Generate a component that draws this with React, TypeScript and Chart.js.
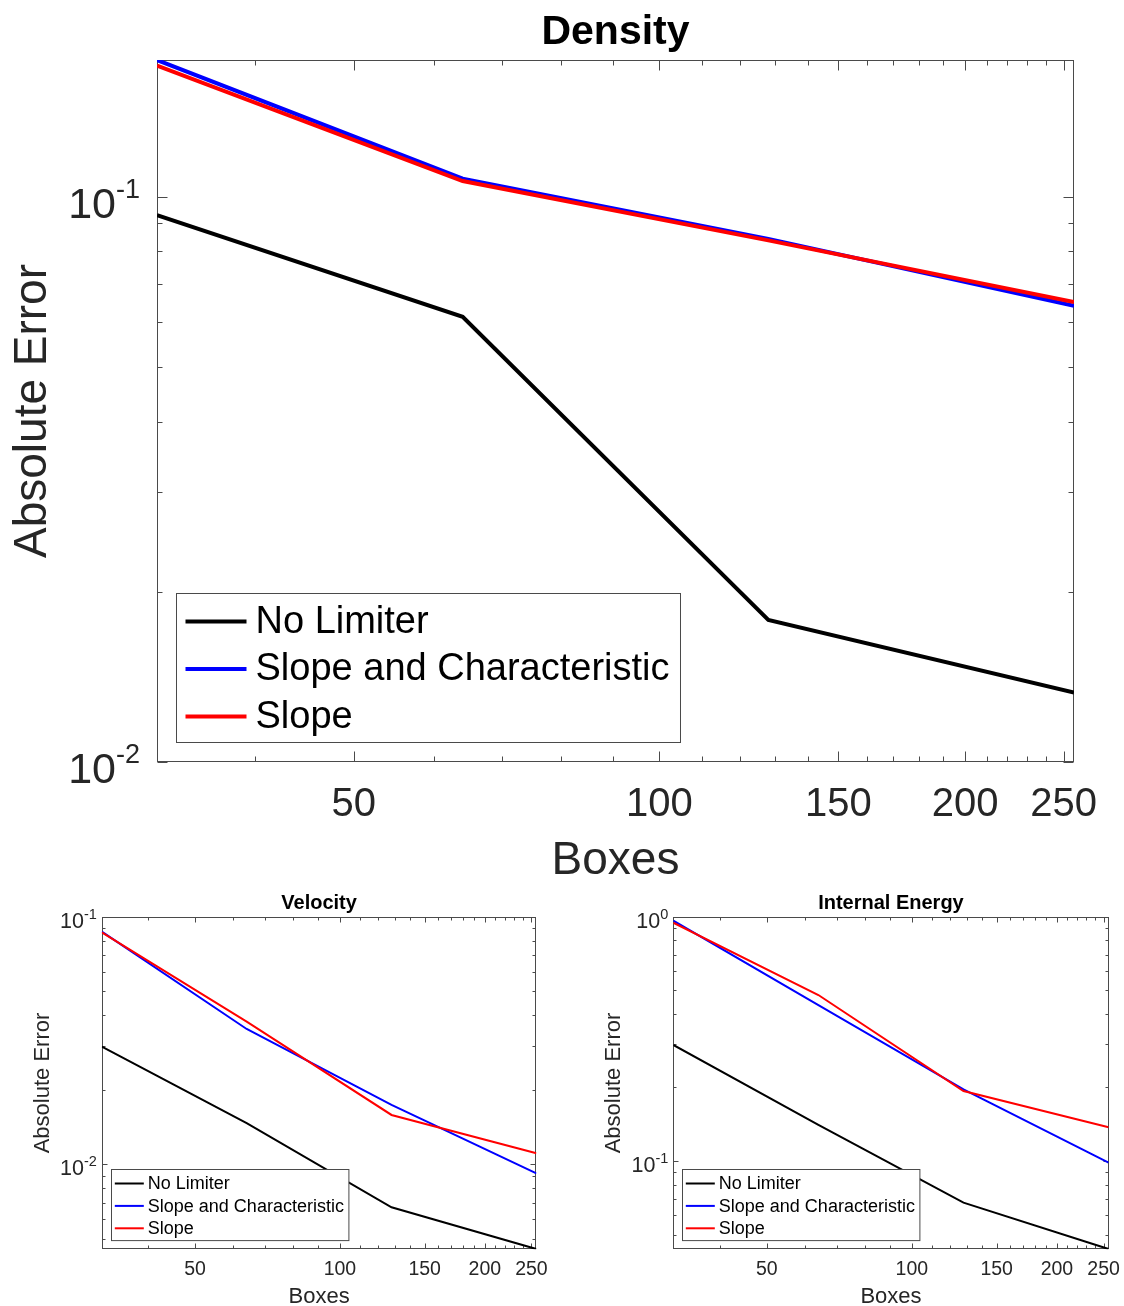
import { useEffect, useRef } from 'react';
import { Chart, registerables } from 'chart.js';

Chart.register(...registerables);

const FONT = '"Liberation Sans", Arial, Helvetica, sans-serif';
const AXIS_COLOR = '#262626';
const FRAME_COLOR = '#4a4a4a';

// Number of boxes in each grid refinement
const boxes = [32, 64, 128, 256];
const seriesNames = ['No Limiter', 'Slope and Characteristic', 'Slope'];
const seriesColors = ['#000000', '#0000ff', '#ff0000'];

// Absolute error of the density
const densityNoLimiter = [0.0928, 0.0613, 0.01783, 0.01327];
const densitySlopeChar = [0.1745, 0.1076, 0.0842, 0.0641];
const densitySlope = [0.1705, 0.1066, 0.0837, 0.0651];

// Absolute error of the velocity
const velocityNoLimiter = [0.02987, 0.01466, 0.00671, 0.00455];
const velocitySlopeChar = [0.087, 0.0352, 0.01738, 0.0092];
const velocitySlope = [0.0865, 0.0377, 0.01583, 0.01109];

// Absolute error of the internal energy
const energyNoLimiter = [0.2985, 0.1405, 0.0675, 0.0436];
const energySlopeChar = [0.963, 0.435, 0.1965, 0.0984];
const energySlope = [0.945, 0.478, 0.1934, 0.1374];

// Axis ticks
const xLabelTicks = [50, 100, 150, 200, 250];
const xMinorTicks = [40, 60, 70, 80, 90, 110, 120, 130, 140, 160, 170, 180, 190, 210, 220, 230, 240];
const yMinorTicks = [
  0.005, 0.006, 0.007, 0.008, 0.009,
  0.02, 0.03, 0.04, 0.05, 0.06, 0.07, 0.08, 0.09,
  0.2, 0.3, 0.4, 0.5, 0.6, 0.7, 0.8, 0.9,
];
const densityYMajor = [0.01, 0.1];
const velocityYMajor = [0.01, 0.1];
const energyYMajor = [0.1, 1];

type Style = {
  left: number; top: number; width: number; height: number;
  yAxisWidth: number; xAxisHeight: number; rightPad: number;
  titleSize: number; titlePadTop: number; titlePadBottom: number;
  labelSize: number; yTitlePadTop: number; xTitleLineHeight: number; xTitlePadBottom: number;
  tickSize: number; tickPad: number;
  lineWidth: number; majorLen: number; minorLen: number;
  ySup: { size: number; supSize: number; gap: number; base: number; raise: number };
  legend: {
    size: number; lineLen: number; padL: number; gap: number; padR: number;
    rowH: number; padTop: number; padBottom: number; offsetX: number; offsetY: number;
  };
};

const bigStyle: Style = {
  left: 0, top: 0, width: 1124, height: 884,
  yAxisWidth: 157, xAxisHeight: 122, rightPad: 50,
  titleSize: 41, titlePadTop: 7.6, titlePadBottom: 3.2,
  labelSize: 46, yTitlePadTop: 5.5, xTitleLineHeight: 1.0, xTitlePadBottom: 0,
  tickSize: 40, tickPad: 10.5,
  lineWidth: 4, majorLen: 10, minorLen: 5,
  ySup: { size: 43, supSize: 27, gap: 17, base: 21, raise: 20 },
  legend: { size: 38, lineLen: 61, padL: 9, gap: 9, padR: 11, rowH: 47.5, padTop: 28, padBottom: 26, offsetX: 19, offsetY: 20 },
};

const smallBase = {
  top: 884, width: 562, height: 422,
  xAxisHeight: 56.7,
  titleSize: 20, titlePadTop: 7.5, titlePadBottom: 1.2,
  labelSize: 22, xTitleLineHeight: 1.0, xTitlePadBottom: -2,
  tickSize: 19.5, tickPad: 0.5,
  lineWidth: 2, majorLen: 5, minorLen: 3,
  ySup: { size: 21.5, supSize: 14.5, gap: 5, base: 11, raise: 9 },
  legend: { size: 18, lineLen: 29, padL: 3.3, gap: 4, padR: 5, rowH: 22.4, padTop: 14, padBottom: 12.3, offsetX: 9, offsetY: 9.3 },
};

const velocityStyle: Style = { ...smallBase, left: 0, yAxisWidth: 101.8, rightPad: 25.6, yTitlePadTop: 29.5 };
const energyStyle: Style = { ...smallBase, left: 562, yAxisWidth: 111.3, rightPad: 15.4, yTitlePadTop: 38.5 };

// Box-style axes with inward tick marks, superscript decade labels and an inset legend
const matlabAxes = {
  id: 'matlabAxes',
  beforeDatasetsDraw(chart: any, _args: any, opts: any) {
    const { ctx, chartArea: a, scales } = chart;
    const xs = scales.x;
    const ys = scales.y;
    const L = Math.round(a.left) + 0.5;
    const R = Math.round(a.right) - 0.5;
    const T = Math.round(a.top) + 0.5;
    const B = Math.round(a.bottom) - 0.5;
    ctx.save();
    ctx.strokeStyle = FRAME_COLOR;
    ctx.lineWidth = 1;
    ctx.beginPath();
    const vTick = (v: number, len: number) => {
      const px = Math.round(xs.getPixelForValue(v)) + 0.5;
      ctx.moveTo(px, B); ctx.lineTo(px, B - len);
      ctx.moveTo(px, T); ctx.lineTo(px, T + len);
    };
    const hTick = (v: number, len: number) => {
      const py = Math.round(ys.getPixelForValue(v)) + 0.5;
      ctx.moveTo(L, py); ctx.lineTo(L + len, py);
      ctx.moveTo(R, py); ctx.lineTo(R - len, py);
    };
    xLabelTicks.forEach((v) => vTick(v, opts.majorLen));
    xMinorTicks.filter((v) => v > xs.min && v < xs.max).forEach((v) => vTick(v, opts.minorLen));
    opts.yMajor.filter((v: number) => v >= ys.min && v <= ys.max).forEach((v: number) => hTick(v, opts.majorLen));
    yMinorTicks.filter((v) => v > ys.min && v < ys.max).forEach((v) => hTick(v, opts.minorLen));
    ctx.stroke();
    ctx.strokeRect(L, T, R - L, B - T);
    ctx.restore();
  },
  afterDatasetsDraw(chart: any, _args: any, opts: any) {
    const { ctx, chartArea: a } = chart;
    const lg = opts.legend;
    const ds = chart.data.datasets;
    ctx.save();
    ctx.font = `${lg.size}px ${FONT}`;
    const textW = Math.max(...ds.map((d: any) => ctx.measureText(d.label).width));
    const w = lg.padL + lg.lineLen + lg.gap + textW + lg.padR;
    const h = lg.padTop + lg.rowH * (ds.length - 1) + lg.padBottom;
    const x0 = Math.round(a.left + lg.offsetX) + 0.5;
    const y0 = Math.round(a.bottom - lg.offsetY - h) + 0.5;
    ctx.fillStyle = '#ffffff';
    ctx.fillRect(x0, y0, w, h);
    ctx.strokeStyle = FRAME_COLOR;
    ctx.lineWidth = 1;
    ctx.strokeRect(x0, y0, w, h);
    ds.forEach((d: any, i: number) => {
      const cy = y0 + lg.padTop + lg.rowH * i;
      ctx.strokeStyle = d.borderColor;
      ctx.lineWidth = d.borderWidth;
      ctx.beginPath();
      ctx.moveTo(x0 + lg.padL, cy);
      ctx.lineTo(x0 + lg.padL + lg.lineLen, cy);
      ctx.stroke();
      ctx.fillStyle = '#000000';
      ctx.textAlign = 'left';
      ctx.textBaseline = 'middle';
      ctx.fillText(d.label, x0 + lg.padL + lg.lineLen + lg.gap, cy + 1);
    });
    ctx.restore();
  },
  afterDraw(chart: any, _args: any, opts: any) {
    const { ctx, chartArea: a, scales } = chart;
    const ys = scales.y;
    const s = opts.ySup;
    ctx.save();
    ctx.fillStyle = AXIS_COLOR;
    ctx.textAlign = 'left';
    ctx.textBaseline = 'alphabetic';
    opts.yMajor.filter((v: number) => v >= ys.min * 0.999 && v <= ys.max * 1.001).forEach((v: number) => {
      const py = ys.getPixelForValue(v);
      const exp = String(Math.round(Math.log10(v)));
      ctx.font = `${s.size}px ${FONT}`;
      const w1 = ctx.measureText('10').width;
      ctx.font = `${s.supSize}px ${FONT}`;
      const w2 = ctx.measureText(exp).width;
      const x0 = a.left - s.gap - w1 - w2;
      ctx.font = `${s.size}px ${FONT}`;
      ctx.fillText('10', x0, py + s.base);
      ctx.font = `${s.supSize}px ${FONT}`;
      ctx.fillText(exp, x0 + w1, py + s.base - s.raise);
    });
    ctx.restore();
  },
};

type PanelProps = {
  title: string;
  series: number[][];
  yMin: number;
  yMax: number;
  yMajor: number[];
  st: Style;
};

function Panel({ title, series, yMin, yMax, yMajor, st }: PanelProps) {
  const ref = useRef<HTMLCanvasElement | null>(null);
  useEffect(() => {
    if (!ref.current) return;
    const datasets = series.map((vals, i) => ({
      label: seriesNames[i],
      data: boxes.map((b, j) => ({ x: b, y: vals[j] })),
      borderColor: seriesColors[i],
      backgroundColor: seriesColors[i],
      borderWidth: st.lineWidth,
      pointRadius: 0,
      fill: false,
      tension: 0,
      order: series.length - 1 - i,
    }));
    const chart = new Chart(ref.current, {
      type: 'line',
      data: { datasets },
      plugins: [matlabAxes],
      options: {
        responsive: false,
        animation: false,
        devicePixelRatio: 1,
        layout: { padding: { left: 0, right: st.rightPad, top: 0, bottom: 0 } },
        plugins: {
          legend: { display: false },
          tooltip: { enabled: false },
          title: {
            display: true,
            text: title,
            color: '#000000',
            fullSize: false,
            font: { family: FONT, size: st.titleSize, weight: 'bold', lineHeight: 1.2 },
            padding: { top: st.titlePadTop, bottom: st.titlePadBottom },
          },
          matlabAxes: {
            yMajor,
            majorLen: st.majorLen,
            minorLen: st.minorLen,
            ySup: st.ySup,
            legend: st.legend,
          },
        } as any,
        scales: {
          x: {
            type: 'logarithmic',
            min: boxes[0],
            max: boxes[boxes.length - 1],
            grid: { display: false },
            border: { display: false },
            afterBuildTicks: (s: any) => {
              s.ticks = xLabelTicks.map((v) => ({ value: v }));
            },
            afterFit: (s: any) => {
              s.height = st.xAxisHeight;
            },
            ticks: {
              autoSkip: false,
              maxRotation: 0,
              minRotation: 0,
              padding: st.tickPad,
              color: AXIS_COLOR,
              font: { family: FONT, size: st.tickSize, lineHeight: 1.2 },
              callback: (v: any) => String(v),
            },
            title: {
              display: true,
              text: 'Boxes',
              color: AXIS_COLOR,
              font: { family: FONT, size: st.labelSize, lineHeight: st.xTitleLineHeight },
              padding: { top: 0, bottom: st.xTitlePadBottom },
            },
          },
          y: {
            type: 'logarithmic',
            min: yMin,
            max: yMax,
            grid: { display: false },
            border: { display: false },
            ticks: { display: false },
            afterFit: (s: any) => {
              s.width = st.yAxisWidth;
            },
            title: {
              display: true,
              text: 'Absolute Error',
              color: AXIS_COLOR,
              font: { family: FONT, size: st.labelSize, lineHeight: 1.2 },
              padding: { top: st.yTitlePadTop, bottom: 0 },
            },
          },
        } as any,
      },
    });
    return () => chart.destroy();
  }, [title, series, yMin, yMax, yMajor, st]);

  return (
    <canvas
      ref={ref}
      width={st.width}
      height={st.height}
      style={{ position: 'absolute', left: st.left, top: st.top, width: st.width, height: st.height, display: 'block' }}
    />
  );
}

const densitySeries = [densityNoLimiter, densitySlopeChar, densitySlope];
const velocitySeries = [velocityNoLimiter, velocitySlopeChar, velocitySlope];
const energySeries = [energyNoLimiter, energySlopeChar, energySlope];

export default function App() {
  return (
    <div style={{ position: 'absolute', left: 0, top: 0, width: 1124, height: 1306, overflow: 'hidden', background: '#ffffff' }}>
      <Panel title="Density" series={densitySeries} yMin={0.01} yMax={0.1745} yMajor={densityYMajor} st={bigStyle} />
      <Panel title="Velocity" series={velocitySeries} yMin={0.00454} yMax={0.1} yMajor={velocityYMajor} st={velocityStyle} />
      <Panel title="Internal Energy" series={energySeries} yMin={0.0435} yMax={1} yMajor={energyYMajor} st={energyStyle} />
    </div>
  );
}
